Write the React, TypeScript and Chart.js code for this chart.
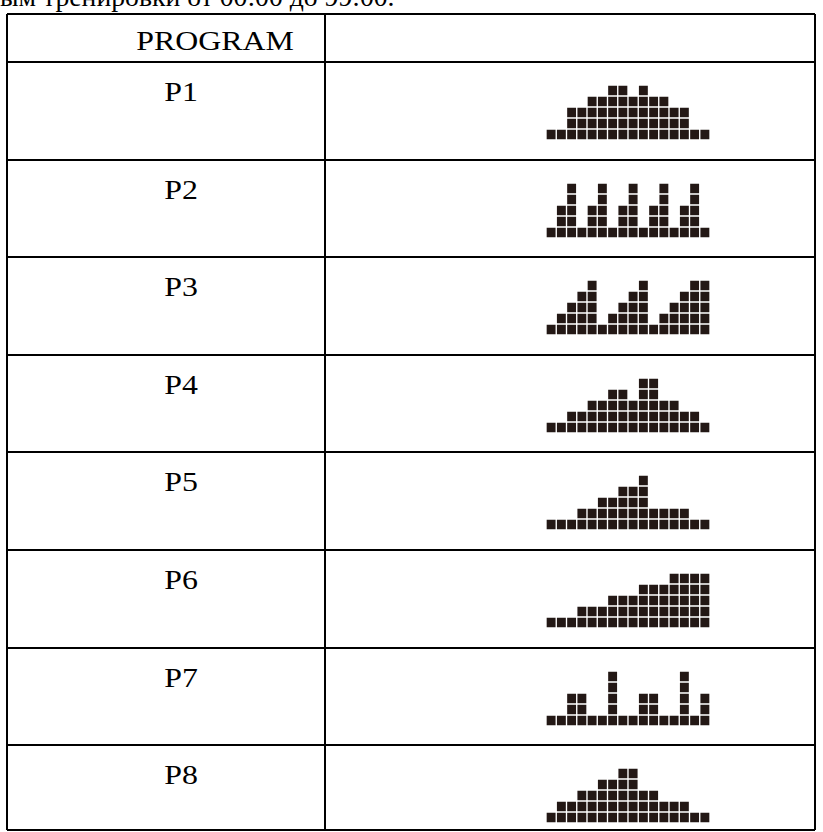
import React, { useEffect, useRef } from "react";
import { Chart, registerables } from "chart.js";

Chart.register(...registerables);

const HEADER_LABEL = "PROGRAM";
const TOP_TEXT = "ым тренировки от 00:00 до 99:00.";
const SEGMENTS = ["1", "2", "3", "4", "5", "6", "7", "8", "9", "10", "11", "12", "13", "14", "15", "16"];
const LEVELS = [1, 2, 3, 4, 5];
const PROGRAM_NAMES = ["P1", "P2", "P3", "P4", "P5", "P6", "P7", "P8"];

const P1 = [1, 1, 3, 3, 4, 4, 5, 5, 4, 5, 4, 4, 3, 3, 1, 1];
const P2 = [1, 3, 5, 1, 3, 5, 1, 3, 5, 1, 3, 5, 1, 3, 5, 1];
const P3 = [1, 2, 3, 4, 5, 1, 2, 3, 4, 5, 1, 2, 3, 4, 5, 5];
const P4 = [1, 1, 2, 2, 3, 3, 4, 4, 3, 5, 5, 3, 3, 2, 2, 1];
const P5 = [1, 1, 1, 2, 2, 3, 3, 4, 4, 5, 2, 2, 2, 2, 1, 1];
const P6 = [1, 1, 1, 2, 2, 2, 3, 3, 3, 4, 4, 4, 5, 5, 5, 5];
const P7 = [1, 1, 3, 3, 1, 1, 5, 1, 1, 3, 3, 1, 1, 5, 1, 3];
const P8 = [1, 2, 2, 3, 3, 4, 4, 5, 5, 3, 3, 2, 2, 2, 1, 1];

const PROFILES = [P1, P2, P3, P4, P5, P6, P7, P8];

const ROW_TOPS = [62, 160, 257, 355, 452, 550, 648, 745];
const TABLE_TOP = 14;
const TABLE_BOTTOM = 830;
const LEFT = 7;
const DIVIDER = 325;
const RIGHT = 815;
const LINE = 1.5;
const FONT = '"Liberation Serif", "Times New Roman", serif';
const FONT_SIZE = 27.7;
const STRETCH = "scaleX(1.15)";
const CELL_COLOR = "#231815";

function ProfileChart({ values, top }: { values: number[]; top: number }) {
  const ref = useRef<HTMLCanvasElement | null>(null);
  useEffect(() => {
    if (!ref.current) return;
    const chart = new Chart(ref.current, {
      type: "bar",
      data: {
        labels: SEGMENTS,
        datasets: LEVELS.map((k) => ({
          label: "L" + k,
          data: values.map((v) => (v >= k ? 1 : null)),
          backgroundColor: CELL_COLOR,
          borderColor: "#ffffff",
          borderWidth: 1,
          borderSkipped: false,
          barPercentage: 1,
          categoryPercentage: 1,
        })),
      },
      options: {
        responsive: false,
        animation: false,
        layout: { padding: 0 },
        plugins: { legend: { display: false }, tooltip: { enabled: false } },
        scales: {
          x: { stacked: true, display: false },
          y: { stacked: true, display: false, min: 0, max: 5 },
        },
      },
    });
    return () => chart.destroy();
  }, [values]);
  return (
    <canvas
      ref={ref}
      width={164}
      height={55}
      style={{ position: "absolute", left: 546, top, width: 164, height: 55 }}
    />
  );
}

const textStyle: React.CSSProperties = {
  position: "absolute",
  fontFamily: FONT,
  fontSize: FONT_SIZE,
  lineHeight: "32px",
  whiteSpace: "nowrap",
  color: "#000",
  transform: STRETCH,
};

export default function App() {
  const hLines = [TABLE_TOP, ...ROW_TOPS, TABLE_BOTTOM];
  return (
    <div style={{ position: "absolute", left: 0, top: 0, width: 823, height: 832, overflow: "hidden", background: "#fff" }}>
      <div style={{ ...textStyle, transform: "none", left: 0, top: -19 }}>{TOP_TEXT}</div>
      {hLines.map((y, i) => (
        <div
          key={"h" + i}
          style={{ position: "absolute", left: LEFT, top: y - LINE / 2, width: RIGHT - LEFT, height: LINE, background: "#000" }}
        />
      ))}
      {[LEFT, DIVIDER, RIGHT].map((x, i) => (
        <div
          key={"v" + i}
          style={{ position: "absolute", left: x - LINE / 2, top: TABLE_TOP, width: LINE, height: TABLE_BOTTOM - TABLE_TOP, background: "#000" }}
        />
      ))}
      <div style={{ ...textStyle, left: 114.5, width: 200, textAlign: "center", top: TABLE_TOP + 11 }}>
        {HEADER_LABEL}
      </div>
      {PROGRAM_NAMES.map((name, i) => (
        <div
          key={name}
          style={{ ...textStyle, left: 131, width: 100, textAlign: "center", top: ROW_TOPS[i] + 14 }}
        >
          {name}
        </div>
      ))}
      {PROFILES.map((p, i) => (
        <ProfileChart key={i} values={p} top={ROW_TOPS[i] + 23} />
      ))}
    </div>
  );
}
